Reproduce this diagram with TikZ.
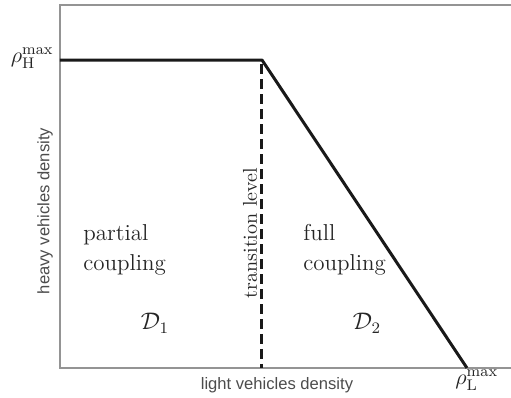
\documentclass[tikz,border=0pt]{standalone}
\usepackage{amsmath,amssymb}
\usepackage{fontspec}
\usepackage{tikz}
\usetikzlibrary{positioning}
\newfontfamily\axisfont{Liberation Sans}

\begin{document}
\begin{tikzpicture}[
  x=0.5pt, y=0.5pt,
  node distance=2pt and 3pt,
  axis/.style  ={draw=black!42, line width=1pt},
  bound/.style ={draw=black!90, line width=1.5pt, line join=round},
  level/.style ={draw=black!90, line width=1.5pt, dash pattern=on 5pt off 2.5pt},
  axlabel/.style={font=\axisfont\fontsize{8.3}{10}\selectfont, text=black!70},
  region/.style={font=\fontsize{11.5}{15}\selectfont, align=left,
                 anchor=west, inner sep=0pt, text=black!85},
  dom/.style   ={font=\fontsize{11.5}{14}\selectfont, text=black!85},
  maxlbl/.style={font=\fontsize{11}{13}\selectfont, inner sep=1pt, text=black!85}
]
\useasboundingbox (0,0) rectangle (511,398);

% frame of the diagram
\coordinate (o)  at (60,30);
\coordinate (tl) at (60,393);
\coordinate (tr) at (511,393);
\coordinate (br) at (511,30);
\draw[axis] (tr) -- (tl) -- (o) -- (br);

% maximal densities and the transition
\coordinate (hmax) at (60,338);
\coordinate (knee) at (262,338);
\coordinate (lmax) at (467,30);
\coordinate (top)  at (262,334);
\coordinate (foot) at (262,30);
\draw[bound] (hmax) -- (knee) -- (lmax);
\draw[level] (top) -- (foot);

\node[maxlbl, left=2pt of hmax, yshift=1pt] (rhoH) {$\rho_{\mathrm{H}}^{\max}$};
\node[maxlbl, anchor=north west] (rhoL) at (453,31) {$\rho_{\mathrm{L}}^{\max}$};

\node[axlabel, rotate=90] (ylab) at (45,187) {heavy vehicles density};
\node[axlabel] (xlab) at (277,13) {light vehicles density};

\node[region] (partial) at (83,148) {partial\\coupling};
\node[region] (full) at (303,148) {full\\coupling};
\node[dom] (d1) at (155,75) {$\mathcal{D}_1$};
\node[dom] (d2) at (367,75) {$\mathcal{D}_2$};
\node[dom, rotate=90, font=\fontsize{10}{12}\selectfont] (trans) at (250,165) {transition level};
\end{tikzpicture}
\end{document}
